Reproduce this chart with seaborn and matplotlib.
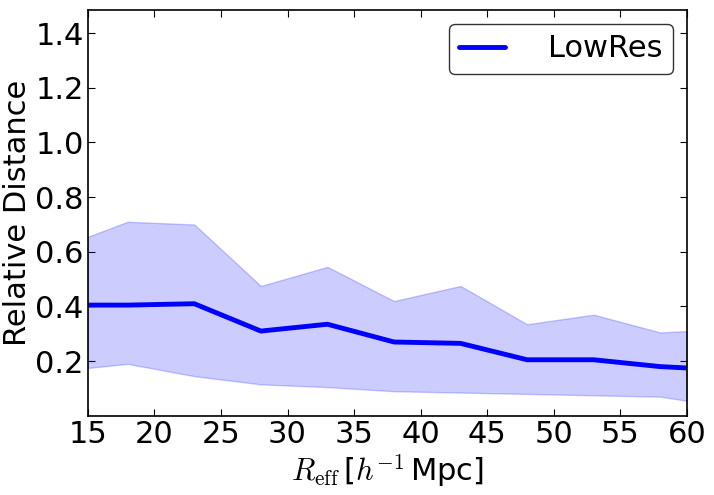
import matplotlib
matplotlib.use("Agg")
import matplotlib.pyplot as plt
import seaborn as sns
import pandas as pd

r_eff = [15, 18, 23, 28, 33, 38, 43, 48, 53, 58, 60]
mean_dist = [0.405, 0.405, 0.41, 0.31, 0.335, 0.27, 0.265, 0.205, 0.205, 0.18, 0.175]
upper_dist = [0.655, 0.71, 0.70, 0.475, 0.545, 0.42, 0.475, 0.335, 0.37, 0.305, 0.31]
lower_dist = [0.175, 0.19, 0.145, 0.115, 0.105, 0.09, 0.085, 0.08, 0.075, 0.07, 0.055]
series_label = "LowRes"

df = pd.DataFrame({"r": r_eff, "mean": mean_dist, "lo": lower_dist, "hi": upper_dist})

sns.set_style("ticks")
plt.rcParams["font.family"] = ["DejaVu Sans"]
plt.rcParams["mathtext.fontset"] = "cm"
plt.rcParams["mathtext.rm"] = "serif"
for k in ["text.color", "axes.labelcolor", "xtick.color", "ytick.color", "axes.edgecolor"]:
    plt.rcParams[k] = "black"

fig = plt.figure(figsize=(7.14, 4.95), dpi=100)
ax = fig.add_axes([0.123, 0.160, 0.839, 0.820])

ax.fill_between(df["r"], df["lo"], df["hi"], color="blue", alpha=0.2, linewidth=1)
sns.lineplot(data=df, x="r", y="mean", ax=ax, color="blue", linewidth=3.5, label=series_label)

ax.set_xlim(15, 60)
ax.set_ylim(0.0, 1.485)
ax.set_xticks([15, 20, 25, 30, 35, 40, 45, 50, 55, 60])
ax.set_yticks([0.2, 0.4, 0.6, 0.8, 1.0, 1.2, 1.4])
ax.tick_params(direction="in", top=True, right=True, labelsize=22, length=5, width=0.8, pad=3)
for s in ax.spines.values():
    s.set_linewidth(1.2)
    s.set_color("black")

ax.set_xlabel(r"$R_{\rm eff}\,$[$h^{-1}\,$Mpc]", fontsize=22, labelpad=2)
ax.set_ylabel("Relative Distance", fontsize=22, labelpad=2)

leg = ax.legend(loc="upper right", fontsize=22, fancybox=True, frameon=True,
                handletextpad=1.4, handlelength=1.5, borderpad=0.35, borderaxespad=0.45)
leg.get_frame().set_edgecolor("black")
leg.get_frame().set_linewidth(1.0)

fig.savefig("out.png", dpi=100)
